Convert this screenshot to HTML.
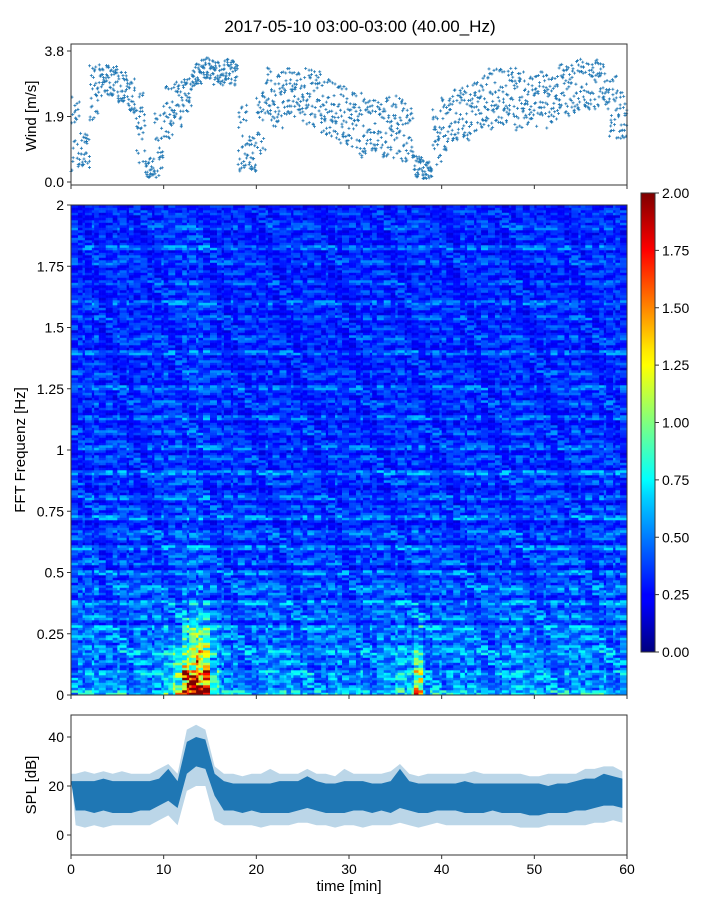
<!DOCTYPE html>
<html><head><meta charset="utf-8"><style>
body{margin:0;background:#fff;font-family:"Liberation Sans",sans-serif;}
svg text{font-family:"Liberation Sans",sans-serif;fill:#000;}
</style></head><body>
<svg id="s" width="720" height="900" xmlns="http://www.w3.org/2000/svg">
<defs><linearGradient id="jet" x1="0" y1="1" x2="0" y2="0">
<stop offset="0" stop-color="#00007f"/><stop offset="0.11" stop-color="#0000ff"/><stop offset="0.125" stop-color="#0000ff"/>
<stop offset="0.34" stop-color="#00d4ff"/><stop offset="0.375" stop-color="#00ffff"/><stop offset="0.5" stop-color="#7fff7f"/>
<stop offset="0.625" stop-color="#ffff00"/><stop offset="0.66" stop-color="#ffe600"/><stop offset="0.875" stop-color="#ff0000"/><stop offset="1" stop-color="#7f0000"/>
</linearGradient></defs>
<text x="360" y="32" font-size="17" text-anchor="middle">2017-05-10 03:00-03:00 (40.00_Hz)</text>
<g id="heat"></g>
<g id="wind"></g>
<g id="cbar"></g>
<g id="spl"></g>
</svg>
<script>
// ---- data ----
const windLo=[0.3,0.4,1.8,2.5,2.5,2.2,2.0,0.3,0.1,0.1,1.2,1.6,2.0,2.7,2.8,2.8,2.8,2.8,0.3,0.3,0.8,1.6,1.5,1.5,1.8,1.6,1.6,1.3,1.2,1.0,0.8,0.7,0.7,0.7,0.7,0.6,0.6,0.1,0.1,0.5,0.9,1.0,1.2,1.3,1.5,1.5,1.6,1.6,1.5,1.5,1.5,1.5,1.8,1.9,2.0,2.1,2.1,2.1,1.2,0.8];
const windHi=[2.5,1.5,3.4,3.4,3.4,3.2,3.0,2.6,0.7,2.0,2.8,2.9,3.0,3.5,3.6,3.6,3.6,3.6,2.4,1.4,2.8,3.4,3.4,3.3,3.3,3.3,3.2,3.0,2.9,2.8,2.6,2.6,2.4,2.4,2.5,2.5,2.3,0.8,0.6,2.1,2.5,2.7,2.8,2.9,3.1,3.3,3.3,3.3,3.2,3.2,3.2,3.3,3.5,3.5,3.7,3.6,3.7,3.5,3.3,2.6];
const splLo=[10,10,9,10,9,9,9,10,10,12,14,11,25,28,27,16,10,10,9,10,9,9,9,9,10,11,10,9,9,9,10,10,9,10,9,11,10,9,9,10,10,10,9,9,9,10,9,9,9,8,8,9,9,9,10,10,11,12,12,11];
const splHi=[22,22,22,23,22,22,22,22,22,23,27,22,38,40,39,25,22,21,21,21,21,21,22,22,22,24,22,21,21,22,22,22,21,21,22,27,22,21,21,21,21,21,22,21,21,21,21,21,21,21,21,20,21,21,22,23,23,25,24,23];
const splMin=[4,3,4,3,4,4,4,4,4,6,8,4,18,20,20,6,4,4,4,4,3,4,4,4,5,5,4,4,3,4,4,3,4,4,4,5,4,3,4,5,4,4,4,4,4,4,4,4,3,3,3,4,4,4,4,4,5,5,6,5];
const splMax=[25,26,25,26,25,26,25,25,25,27,29,25,43,45,43,28,25,25,24,25,25,27,25,25,25,27,25,25,24,27,25,25,25,25,26,29,25,24,25,25,25,25,25,26,25,25,25,25,25,24,24,25,25,25,25,27,27,28,28,26];
const rowVal=[0.6,0.5,0.45,0.5,0.55,0.4,0.5,0.45,0.55,0.5,0.4,0.5,0.45,0.55,0.35,0.5,0.45,0.4,0.55,0.35,0.45,0.5,0.4,0.35,0.5,0.3,0.45,0.4,0.35,0.5,0.3,0.4,0.45,0.35,0.3,0.5,0.35,0.4,0.3,0.45,0.35,0.3,0.4,0.35,0.5,0.3,0.35,0.4,0.3,0.45,0.35,0.3,0.4,0.35,0.3,0.45,0.3,0.35,0.4,0.3,0.35,0.45,0.3,0.35,0.4,0.3,0.35,0.3,0.45,0.3,0.35,0.4,0.3,0.35,0.3,0.4,0.3,0.35,0.45,0.3,0.35,0.3,0.4,0.3,0.35,0.3,0.4,0.35,0.3,0.45,0.3,0.35,0.3,0.4,0.35,0.3,0.35,0.3];
const colMod=[1.0,0.97,1.02,0.96,1.0,1.02,0.97,1.0,0.98,1.02,1.03,1.05,1.08,1.1,1.07,1.0,0.97,0.98,1.0,0.97,0.96,1.0,0.97,0.98,0.96,1.0,0.97,0.96,0.98,0.95,0.96,0.98,0.97,1.0,0.96,1.02,0.98,1.03,0.97,1.0,0.98,0.97,1.02,0.98,1.0,0.97,0.98,1.0,1.02,0.97,1.0,0.98,1.0,0.97,1.02,1.0,0.98,1.02,1.0,0.98];
const lowBoost=[0.05,0.05,0.05,0.05,0.05,0.1,0.05,0.1,0.05,0.1,0.2,0.5,1.5,1.8,1.6,0.4,0.1,0.05,0.05,0.05,0.05,0.1,0.05,0.1,0.05,0.1,0.05,0.05,0.1,0.05,0.05,0.1,0.05,0.1,0.1,0.2,0.2,0.8,0.1,0.1,0.05,0.1,0.05,0.1,0.05,0.05,0.1,0.05,0.1,0.05,0.1,0.1,0.05,0.1,0.05,0.1,0.05,0.1,0.05,0.1];
const windTicks=[0.0,1.9,3.8], freqTicks=[0,0.25,0.5,0.75,1,1.25,1.5,1.75,2], splTicks=[0,20,40], timeTicks=[0,10,20,30,40,50,60], cbTicks=[0,0.25,0.5,0.75,1,1.25,1.5,1.75,2];
// ---- helpers ----
const NS='http://www.w3.org/2000/svg';
function mk(p,t,a){const e=document.createElementNS(NS,t);for(const k in a)e.setAttribute(k,a[k]);p.appendChild(e);return e;}
const X0=71,X1=627;
const xs=t=>X0+(t/60)*(X1-X0);
const yW=v=>182-v*(131/3.8);
const yF=f=>695-f*(490/2);
const yS=d=>835-d*2.45;
const yC=v=>652-v*(459/2);
function jet(v){v=Math.max(0,Math.min(1,v));const r=Math.max(0,Math.min(1,1.5-Math.abs(4*v-3))),g=Math.max(0,Math.min(1,1.5-Math.abs(4*v-2))),b=Math.max(0,Math.min(1,1.5-Math.abs(4*v-1)));return `rgb(${r*255|0},${g*255|0},${b*255|0})`;}
function axes(g,x,y,w,h,name){const r=mk(g,'rect',{x,y,width:w,height:h,fill:'none',stroke:'#333','stroke-width':1});}
// ---- wind ----
const W=document.getElementById('wind');
for(let i=0;i<windLo.length;i++){
  const lo=windLo[i],hi=windHi[i];
  for(let k=0;k<7;k++){
    for(let j=0;j<4;j++){
      const n=i*28+k*4+j;
      const q=((n*n*7919+n*104729)%1009)/1009;
      const dt=((n*n*131+n*17)%97)/97;
      const v=lo+(hi-lo)*q;
      const px=xs(i+(k+dt)/7),py=yW(v);
      const p=mk(W,'path',{d:`M${px-1.5},${py}h3M${px},${py-1.5}v3`,stroke:'#1f77b4','stroke-width':0.8});
      
      
    }
  }
}
axes(W,71,44,556,141,'wind-axes');
windTicks.forEach(v=>{mk(W,'line',{x1:67,x2:71,y1:yW(v),y2:yW(v),stroke:'#333'});const t=mk(W,'text',{x:64,y:yW(v)+5,'font-size':14,'text-anchor':'end'});t.textContent=v.toFixed(1);});
timeTicks.forEach(v=>mk(W,'line',{x1:xs(v),x2:xs(v),y1:185,y2:189,stroke:'#333'}));
{const t=mk(W,'text',{x:36,y:116,'font-size':15,'text-anchor':'middle',transform:'rotate(-90 36 116)'});t.textContent='Wind [m/s]';}
// ---- heatmap ----
const H=document.getElementById('heat');
const nR=rowVal.length, SUB=2, nC=colMod.length*4, fStep=2/nR/SUB;
for(let c=0;c<nC;c++){
  const m=Math.floor(c/4);
  for(let r=0;r<nR*SUB;r++){
    const f=r*fStep;
    const n=r*53+Math.floor(c/3)*7+Math.floor(c/5)*3;
    const tex=0.6+0.8*(((n*n*31+n*13)%101)/101);
    let v=rowVal[Math.floor(r/SUB)]*colMod[m]*tex;
    if(f<0.4) v*=1+lowBoost[m]*Math.pow(1-f/0.4,1.5)*1.7;
    const x0=xs(c/4),x1=xs((c+1)/4);
    const e=mk(H,'rect',{x:x0,y:yF(f+fStep),width:x1-x0+0.3,height:yF(0)-yF(fStep)+0.3,fill:jet(v/2)});
    
    
  }
}
axes(H,71,205,556,490,'spectrogram-axes');
freqTicks.forEach(v=>{mk(H,'line',{x1:67,x2:71,y1:yF(v),y2:yF(v),stroke:'#333'});const t=mk(H,'text',{x:64,y:yF(v)+5,'font-size':14,'text-anchor':'end'});t.textContent=String(v);});
timeTicks.forEach(v=>mk(H,'line',{x1:xs(v),x2:xs(v),y1:695,y2:699,stroke:'#333'}));
{const t=mk(H,'text',{x:25,y:450,'font-size':15,'text-anchor':'middle',transform:'rotate(-90 25 450)'});t.textContent='FFT Frequenz [Hz]';}
// ---- colorbar ----
const C=document.getElementById('cbar');
{const r=mk(C,'rect',{x:641,y:193,width:14,height:459,fill:'url(#jet)',stroke:'#333'});}
cbTicks.forEach(v=>{mk(C,'line',{x1:655,x2:659,y1:yC(v),y2:yC(v),stroke:'#333'});const t=mk(C,'text',{x:662,y:yC(v)+5,'font-size':14});t.textContent=v.toFixed(2);});
// ---- SPL ----
const S=document.getElementById('spl');
function band(lo,hi,fill,op,name){let d='M';for(let i=0;i<hi.length;i++)d+=`${xs(i+0.5)},${yS(hi[i])} `;for(let i=lo.length-1;i>=0;i--)d+=`${xs(i+0.5)},${yS(lo[i])} `;
  d=`M${xs(0)},${yS(hi[0])} `+d.slice(1);
  const p=mk(S,'path',{d:d+'Z',fill,'fill-opacity':op});}
band(splMin,splMax,'#1f77b4',0.3,'spl-extreme-band');
band(splLo,splHi,'#1f77b4',1,'spl-core-band');
axes(S,71,715,556,140,'spl-axes');
splTicks.forEach(v=>{mk(S,'line',{x1:67,x2:71,y1:yS(v),y2:yS(v),stroke:'#333'});const t=mk(S,'text',{x:64,y:yS(v)+5,'font-size':14,'text-anchor':'end'});t.textContent=String(v);});
timeTicks.forEach(v=>{mk(S,'line',{x1:xs(v),x2:xs(v),y1:855,y2:859,stroke:'#333'});const t=mk(S,'text',{x:xs(v),y:874,'font-size':14,'text-anchor':'middle'});t.textContent=String(v);});
{const t=mk(S,'text',{x:36,y:785,'font-size':15,'text-anchor':'middle',transform:'rotate(-90 36 785)'});t.textContent='SPL [dB]';}
{const t=mk(S,'text',{x:349,y:891,'font-size':15,'text-anchor':'middle'});t.textContent='time [min]';}
</script>
</body></html>
